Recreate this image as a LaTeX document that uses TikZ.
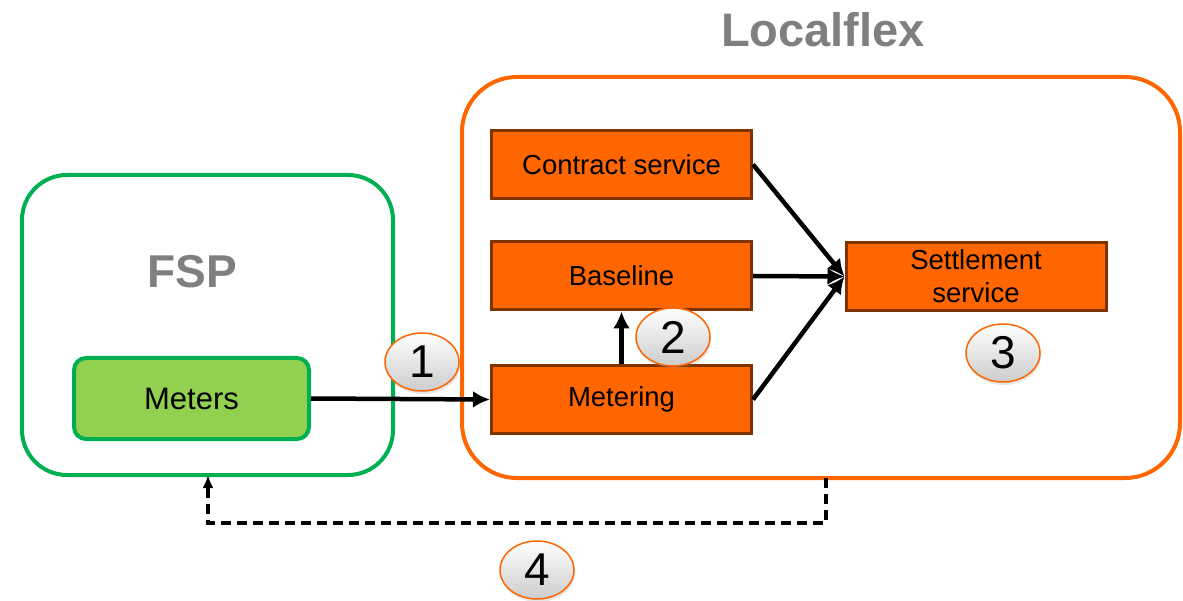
\documentclass[tikz,border=0pt]{standalone}
\usepackage{fontspec}
\setmainfont{Liberation Sans}
\usepackage[dvipsnames]{xcolor}
\usetikzlibrary{shapes}
\usetikzlibrary{shadows}
\usetikzlibrary{arrows.meta}
\tikzset{>={Latex[length=17pt,width=17pt]}}

\definecolor{fspgreen}{HTML}{00B050}
\definecolor{metergreen}{HTML}{92D050}
\definecolor{flexorange}{HTML}{FF6600}
\definecolor{boxbrown}{HTML}{7F3300}
\definecolor{titlegray}{HTML}{7F7F7F}

\tikzset{
  service/.style={draw=boxbrown, fill=flexorange, line width=3pt, minimum width=260pt, minimum height=68pt, inner sep=0pt, font=\fontsize{27.5}{33}\selectfont, align=center},
  stepmark/.style={ellipse, draw=flexorange, line width=1.5pt, top color=white, bottom color=black!20, minimum width=74pt, minimum height=58pt, inner sep=0pt, font=\fontsize{46}{46}\selectfont, drop shadow={opacity=0.2, shadow xshift=1pt, shadow yshift=-3pt}},
  flow/.style={->, line width=4.5pt}
}

\begin{document}
\begin{tikzpicture}[x=1pt, y=-1pt]
  \useasboundingbox (0,0) rectangle (1183,601);

  % Containers
  \draw[fspgreen, line width=4pt, rounded corners=45pt] (22,175) rectangle (393,475);
  \draw[flexorange, line width=4pt, rounded corners=55pt] (462,77) rectangle (1180,478);
  \node[text=titlegray, font=\fontsize{46}{46}\selectfont\bfseries] (fsp) at (192,272) {FSP};
  \node[text=titlegray, font=\fontsize{47}{47}\selectfont\bfseries] (localflex) at (823,30) {Localflex};

  % Services
  \node[draw=fspgreen, fill=metergreen, line width=4pt, rounded corners=12pt, minimum width=235pt, minimum height=81pt, font=\fontsize{31}{33}\selectfont] (meters) at (191.5,398.5) {Meters};
  \node[service] (contract) at (621.5,164.5) {Contract service};
  \node[service] (baseline) at (621.5,276) {Baseline};
  \node[service] (metering) at (621.5,399.5) {Metering};
  \node[service] (settlement) at (976,276.5) {Settlement\\service};

  % Data flow
  \draw[flow] (meters.east) -- (metering.west);
  \draw[flow] (metering.north) -- (baseline.south);
  \draw[flow] (contract.east) -- (settlement.west);
  \draw[flow] (baseline.east) -- (settlement.west);
  \draw[flow] (metering.east) -- (settlement.west);

  % Feedback to FSP
  \coordinate (fbstart) at (826,478);
  \coordinate (fbend) at (208,475);
  \draw[-{Latex[length=13pt,width=11pt]}, line width=4.5pt, dash pattern=on 10pt off 6pt] (fbstart) -- (826,523) -- (208,523) -- (fbend);

  % Step numbers
  \node[stepmark] (one) at (422,362) {1};
  \node[stepmark] (two) at (673,337) {2};
  \node[stepmark] (three) at (1003,353) {3};
  \node[stepmark] (four) at (537,570) {4};

\end{tikzpicture}
\end{document}
